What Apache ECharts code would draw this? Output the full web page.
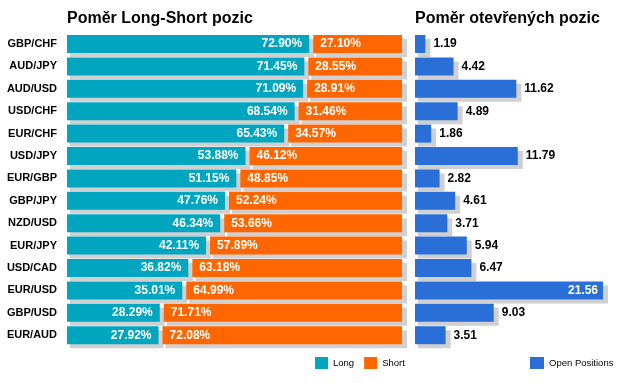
<!DOCTYPE html>
<html><head><meta charset="utf-8">
<script src="https://cdn.jsdelivr.net/npm/echarts@6/dist/echarts.min.js"></script>
<style>html,body{margin:0;padding:0;background:#fff}#c{width:623px;height:383px}</style>
</head><body><div id="c"></div>
<script>
const pairs = ['GBP/CHF','AUD/JPY','AUD/USD','USD/CHF','EUR/CHF','USD/JPY','EUR/GBP','GBP/JPY','NZD/USD','EUR/JPY','USD/CAD','EUR/USD','GBP/USD','EUR/AUD'];
const longPct = [72.90,71.45,71.09,68.54,65.43,53.88,51.15,47.76,46.34,42.11,36.82,35.01,28.29,27.92];
const shortPct = [27.10,28.55,28.91,31.46,34.57,46.12,48.85,52.24,53.66,57.89,63.18,64.99,71.71,72.08];
const openPos = [1.19,4.42,11.62,4.89,1.86,11.79,2.82,4.61,3.71,5.94,6.47,21.56,9.03,3.51];

const FONT = '"Liberation Sans", Arial, sans-serif';
const SHADOW = '#d0d0d0';
const BAR_H = 18;

function barGroup(x0, x1, cy, color, label) {
  const w = Math.max(0, x1 - x0);
  const y = cy - BAR_H / 2;
  const ch = [
    {type: 'rect', shape: {x: x0 + 3, y: y + 4, width: w + 2, height: BAR_H}, style: {fill: SHADOW}},
    {type: 'rect', shape: {x: x0, y: y, width: w, height: BAR_H}, style: {fill: color}}
  ];
  if (label) ch.push(label);
  return {type: 'group', children: ch};
}

function renderLong(params, api) {
  const i = api.value(0), v = api.value(1);
  const p0 = api.coord([0, i]), p1 = api.coord([v, i]);
  const x1 = p1[0] - 2;
  return barGroup(p0[0], x1, p0[1], api.visual('color'), {
    type: 'text', style: {text: v.toFixed(2) + '%', x: x1 - 7, y: p0[1], align: 'right', verticalAlign: 'middle', fill: '#fff', font: 'bold 12px ' + FONT}
  });
}
function renderShort(params, api) {
  const i = api.value(0), s = api.value(1), v = api.value(2);
  const p0 = api.coord([s, i]), p1 = api.coord([s + v, i]);
  const x0 = p0[0] + 2;
  return barGroup(x0, p1[0], p0[1], api.visual('color'), {
    type: 'text', style: {text: v.toFixed(2) + '%', x: x0 + 7, y: p0[1], align: 'left', verticalAlign: 'middle', fill: '#fff', font: 'bold 12px ' + FONT}
  });
}
function renderOpen(params, api) {
  const i = api.value(0), v = api.value(1);
  const p0 = api.coord([0, i]), p1 = api.coord([v, i]);
  const inside = p1[0] + 45 > 623;
  return barGroup(p0[0], p1[0], p0[1], api.visual('color'), {
    type: 'text', style: {text: v.toFixed(2), x: inside ? p1[0] - 5 : p1[0] + 8, y: p0[1], align: inside ? 'right' : 'left', verticalAlign: 'middle', fill: inside ? '#fff' : '#000', font: 'bold 12px ' + FONT}
  });
}

const chart = echarts.init(document.getElementById('c'), null, {renderer: 'canvas'});
const top0 = 32.8, h0 = 313.6;
chart.setOption({
  animation: false,
  textStyle: {fontFamily: FONT},
  title: [
    {text: 'Poměr Long-Short pozic', left: 67, top: 11, padding: 0, textStyle: {fontSize: 16, fontWeight: 'bold', color: '#000', fontFamily: FONT}},
    {text: 'Poměr otevřených pozic', left: 415, top: 11, padding: 0, textStyle: {fontSize: 16, fontWeight: 'bold', color: '#000', fontFamily: FONT}}
  ],
  legend: [
    {data: ['Long', 'Short'], left: 315, top: 357, padding: 0, itemWidth: 13, itemHeight: 12, itemGap: 10, icon: 'rect',
     textStyle: {fontSize: 9.5, color: '#000', fontFamily: FONT}},
    {data: ['Open Positions'], left: 530, top: 357, padding: 0, itemWidth: 14, itemHeight: 12, icon: 'rect',
     textStyle: {fontSize: 9.5, color: '#000', fontFamily: FONT}}
  ],
  grid: [
    {left: 67, top: top0, width: 335, height: h0, containLabel: false},
    {left: 415, top: top0, width: 188, height: h0, containLabel: false}
  ],
  xAxis: [
    {gridIndex: 0, type: 'value', min: 0, max: 100, show: false},
    {gridIndex: 1, type: 'value', min: 0, max: 'dataMax', show: false}
  ],
  yAxis: [
    {gridIndex: 0, type: 'category', data: pairs, inverse: true, axisLine: {show: false}, axisTick: {show: false}, splitLine: {show: false},
     axisLabel: {margin: 10, color: '#000', fontSize: 11, fontWeight: 'bold', fontFamily: FONT}},
    {gridIndex: 1, type: 'category', data: pairs, inverse: true, show: false}
  ],
  series: [
    {name: 'Long', type: 'custom', xAxisIndex: 0, yAxisIndex: 0, itemStyle: {color: '#00a6c0'},
     encode: {x: 1, y: 0}, renderItem: renderLong,
     data: longPct.map((v, i) => [i, v])},
    {name: 'Short', type: 'custom', xAxisIndex: 0, yAxisIndex: 0, itemStyle: {color: '#ff6600'},
     encode: {x: [1, 2], y: 0}, renderItem: renderShort,
     data: shortPct.map((v, i) => [i, longPct[i], v])},
    {name: 'Open Positions', type: 'custom', xAxisIndex: 1, yAxisIndex: 1, itemStyle: {color: '#2a6fd8'},
     encode: {x: 1, y: 0}, renderItem: renderOpen,
     data: openPos.map((v, i) => [i, v])}
  ]
});
</script></body></html>
